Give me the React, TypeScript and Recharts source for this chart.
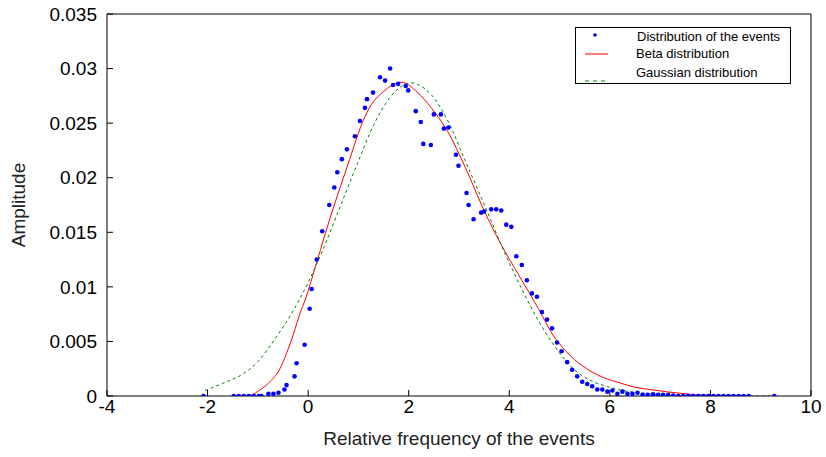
import {
  ComposedChart, Line, Scatter, XAxis, YAxis, Legend,
} from "recharts";

document.body.style.margin = "0";

const FONT = "'Liberation Sans', Arial, Helvetica, sans-serif";

// measured events (blue dots)
const eventX = [
  -2.08, -1.48, -1.38, -1.28, -1.18, -1.08, -0.98, -0.93, -0.79, -0.69,
  -0.59, -0.47, -0.43, -0.27, -0.23, -0.07, 0.03, 0.07, 0.17, 0.28,
  0.42, 0.52, 0.58, 0.67, 0.77, 0.93, 1.03, 1.13, 1.17, 1.29,
  1.43, 1.53, 1.63, 1.69, 1.79, 1.94, 1.99, 2.14, 2.24, 2.29,
  2.44, 2.5, 2.64, 2.7, 2.79, 2.94, 2.99, 3.15, 3.19, 3.29,
  3.44, 3.5, 3.64, 3.74, 3.84, 3.94, 4.04, 4.14, 4.25, 4.35,
  4.45, 4.55, 4.65, 4.75, 4.85, 4.95, 5.04, 5.15, 5.25, 5.35,
  5.45, 5.55, 5.65, 5.75, 5.85, 5.95, 6.05, 6.15, 6.25, 6.35,
  6.45, 6.55, 6.65, 6.75, 6.86, 6.96, 7.06, 7.16, 7.26, 7.36,
  7.46, 7.56, 7.66, 7.76, 7.86, 7.96, 8.06, 8.16, 8.26, 8.36,
  8.46, 8.56, 8.66, 8.76, 9.27,
];
const eventY = [
  0, 0, 0, 0, 0, 0, 0, 0, 0.0002, 0.0002,
  0.0003, 0.0006, 0.001, 0.0018, 0.003, 0.0047, 0.008, 0.0098, 0.0125, 0.0151,
  0.0175, 0.0191, 0.0205, 0.0217, 0.0226, 0.0238, 0.0252, 0.0264, 0.0272, 0.0278,
  0.0292, 0.0289, 0.03, 0.0285, 0.0286, 0.0284, 0.028, 0.0261, 0.0251, 0.0231,
  0.023, 0.0258, 0.0258, 0.0245, 0.0246, 0.0221, 0.0211, 0.0186, 0.0175, 0.0162,
  0.0168, 0.0169, 0.0171, 0.0171, 0.017, 0.0157, 0.0155, 0.0128, 0.012, 0.0106,
  0.0094, 0.0091, 0.0077, 0.007, 0.0062, 0.0049, 0.0041, 0.0031, 0.0024, 0.0018,
  0.0013, 0.0011, 0.0009, 0.0006, 0.0006, 0.0004, 0.0005, 0.0002, 0.0004, 0.0002,
  0.0002, 0.0003, 0.0001, 0.0001, 0.00015, 0.0001, 0.0001, 0.0001, 0.00005, 0,
  0, 0, 0, 0, 0, 0, 0, 0, 0, 0,
  0, 0, 0, 0, 0,
];

// beta fit (red)
const betaX = [
  -1.48, -1.2, -0.96, -0.76, -0.56, -0.43, -0.29, -0.16, -0.06, 0.18,
  0.45, 0.65, 0.79, 1.12, 1.3, 1.45, 1.85, 2.18, 2.45, 2.78,
  3.12, 3.45, 3.58, 3.92, 4.25, 4.58, 4.91, 5.05, 5.21, 5.54,
  5.87, 6.2, 6.5, 6.8, 7.1, 7.4, 7.7, 8.0, 8.78,
];
const betaY = [
  0, 0, 0.00055, 0.0013, 0.0025, 0.0039, 0.0057, 0.0076, 0.0088, 0.0124,
  0.0165, 0.0193, 0.0212, 0.0255, 0.027, 0.0277, 0.02875, 0.0278, 0.0264, 0.0242,
  0.021, 0.0175, 0.0162, 0.0132, 0.0106, 0.008, 0.0053, 0.0045, 0.0037, 0.0025,
  0.0017, 0.0012, 0.0008, 0.0006, 0.0004, 0.00025, 0.00012, 0.00005, 0,
];

// gaussian fit (green dashed)
const gaussX = [
  -2.05, -1.68, -1.34, -1.01, -0.68, -0.35, -0.01, 0.32, 0.65, 0.98,
  1.3, 1.62, 1.9, 2.05, 2.2, 2.45, 2.78, 3.12, 3.45, 3.58,
  3.92, 4.25, 4.58, 4.91, 5.25, 5.58, 5.92, 6.25, 6.6, 7.0,
  7.5, 8.0, 9.3,
];
const gaussY = [
  0.0005, 0.0012, 0.0019, 0.0031, 0.0051, 0.0074, 0.0103, 0.0137, 0.0175, 0.0213,
  0.0248, 0.0273, 0.0285, 0.0287, 0.0285, 0.0276, 0.0252, 0.0216, 0.0181, 0.0167,
  0.013, 0.0098, 0.0069, 0.0045, 0.0026, 0.0015, 0.0009, 0.0005, 0.0003, 0.0001,
  0.00003, 0, 0,
];

const xTicks = [-4, -2, 0, 2, 4, 6, 8, 10];
const yTicks = [0, 0.005, 0.01, 0.015, 0.02, 0.025, 0.03, 0.035];

const seriesNames = ["Distribution of the events", "Beta distribution", "Gaussian distribution"];

const zip = (xs: number[], ys: number[]) => xs.map((x, i) => ({ x, y: ys[i] }));
const events = zip(eventX, eventY);
const beta = zip(betaX, betaY);
const gauss = zip(gaussX, gaussY);

const tickStyle = { fontSize: 19, fill: "#000", fontFamily: FONT };

function Dot(props: any) {
  return <circle cx={props.cx} cy={props.cy} r={2.3} fill="#0000ff" />;
}

function LegendBox() {
  return (
    <svg width={216} height={57} style={{ display: "block", fontFamily: FONT }}>
      <rect x={0.5} y={0.5} width={215} height={56} fill="#fff" stroke="#000" />
      <circle cx={20} cy={8} r={1.8} fill="#0000ff" />
      <text x={62} y={9} fontSize={13} dominantBaseline="central">{seriesNames[0]}</text>
      <line x1={10} x2={33} y1={27} y2={27} stroke="#ff0000" />
      <text x={61} y={26} fontSize={13} dominantBaseline="central">{seriesNames[1]}</text>
      <line x1={10} x2={33} y1={54} y2={54} stroke="#008000" strokeDasharray="4 4" />
      <text x={61} y={45} fontSize={13} dominantBaseline="central">{seriesNames[2]}</text>
    </svg>
  );
}

export default function App() {
  return (
    <ComposedChart width={826} height={457} margin={{ top: 13, right: 14, bottom: 0, left: 0 }}>
      <XAxis
        dataKey="x" type="number" domain={[-4, 10]} ticks={xTicks} allowDataOverflow
        height={61} tickSize={-6} tickMargin={10} tick={tickStyle}
        axisLine={{ stroke: "#000" }} tickLine={{ stroke: "#000" }}
        label={{ value: "Relative frequency of the events", position: "insideBottom", offset: 12, style: { fontSize: 19, fill: "#222", fontFamily: FONT } }}
      />
      <XAxis
        xAxisId="top" orientation="top" type="number" domain={[-4, 10]} ticks={xTicks} allowDataOverflow
        height={1} tickSize={-6} tick={false}
        axisLine={{ stroke: "#000" }} tickLine={{ stroke: "#000" }}
      />
      <YAxis
        type="number" domain={[0, 0.035]} ticks={yTicks} allowDataOverflow
        width={107} tickSize={-6} tickMargin={16} tick={tickStyle}
        tickFormatter={(v: number) => String(v)}
        axisLine={{ stroke: "#000" }} tickLine={{ stroke: "#000" }}
        label={{ value: "Amplitude", angle: -90, position: "insideLeft", offset: 18, style: { fontSize: 19, fill: "#222", fontFamily: FONT, textAnchor: "middle" } }}
      />
      <YAxis
        yAxisId="right" orientation="right" type="number" domain={[0, 0.035]} ticks={yTicks} allowDataOverflow
        width={1} tickSize={-6} tick={false}
        axisLine={{ stroke: "#000" }} tickLine={{ stroke: "#000" }}
      />
      <Scatter name={seriesNames[0]} data={events} dataKey="y" shape={<Dot />} isAnimationActive={false} />
      <Line name={seriesNames[1]} data={beta} dataKey="y" type="monotone" stroke="#ff0000" strokeWidth={1} dot={false} isAnimationActive={false} />
      <Line name={seriesNames[2]} data={gauss} dataKey="y" type="monotone" stroke="#008000" strokeWidth={1} strokeDasharray="3 3" dot={false} isAnimationActive={false} />
      <Legend
        layout="horizontal" align="center" verticalAlign="middle"
        content={() => <LegendBox />}
        wrapperStyle={{ position: "absolute", left: 575, top: 27, width: 216, height: 57 }}
      />
    </ComposedChart>
  );
}
